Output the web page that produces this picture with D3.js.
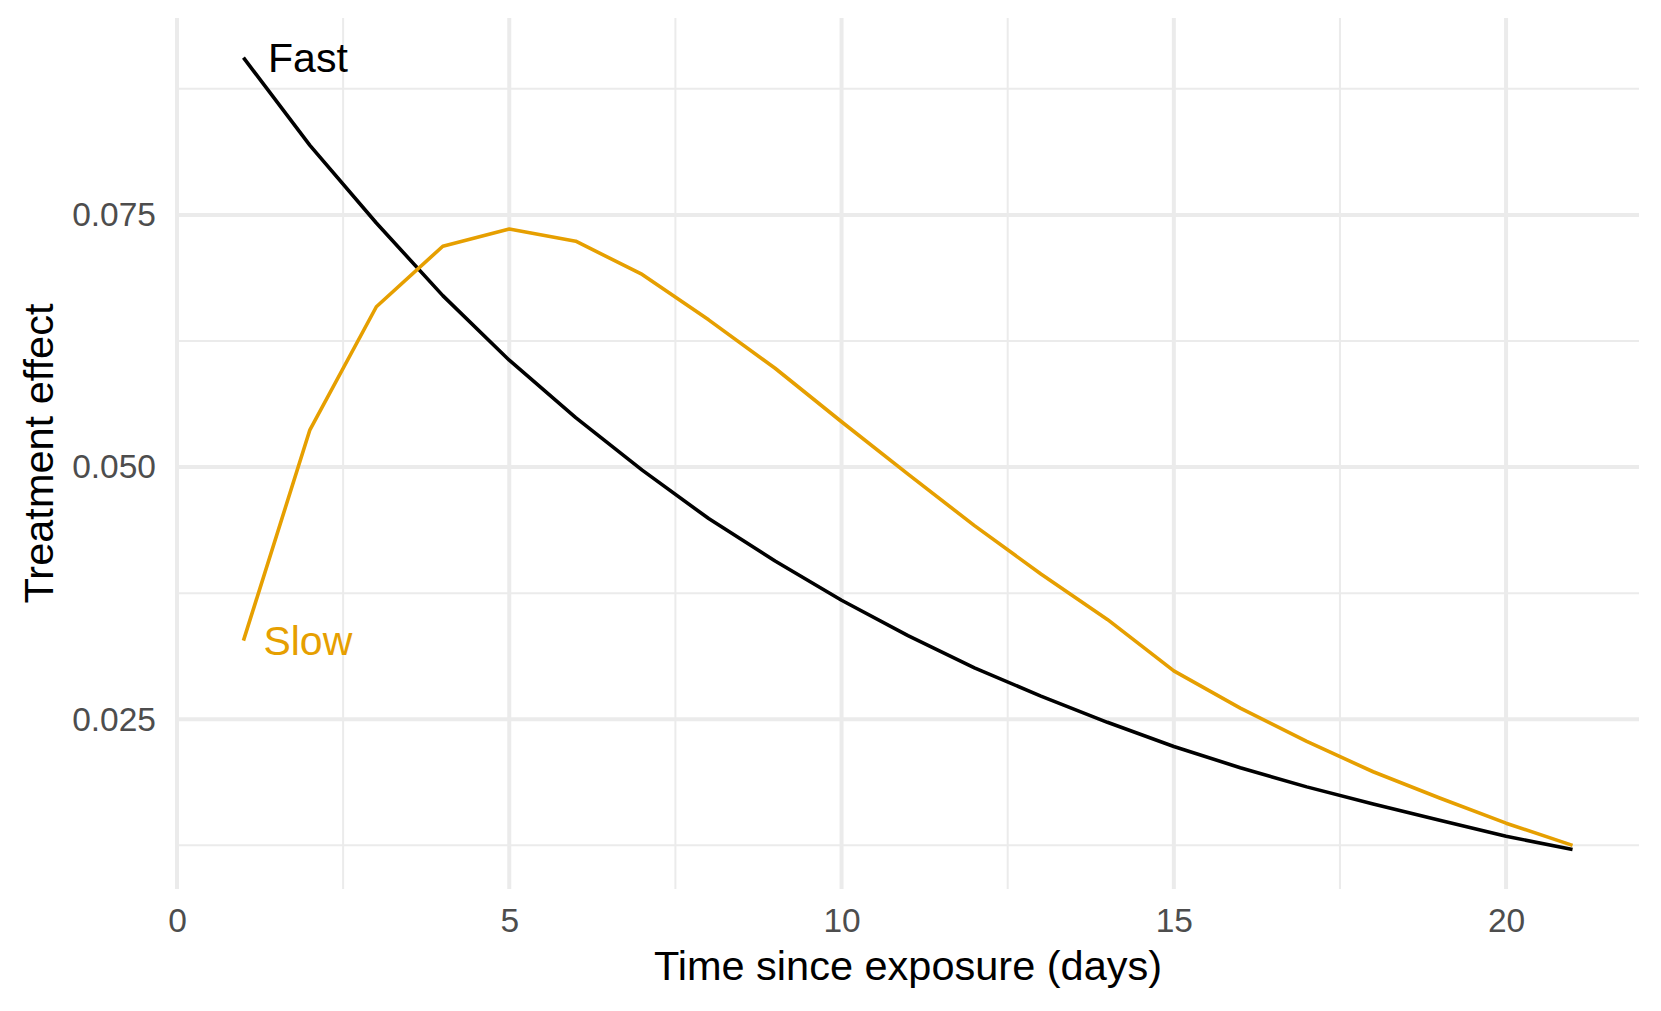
<!DOCTYPE html>
<html lang="en">
<head>
	<meta charset="UTF-8">
	<script src="https://d3js.org/d3.v7.min.js"></script>
	<title>Treatment effect</title>
	<style>
		body { margin: 0; background: white; }
		svg { display: block; font-family: "Liberation Sans", Arial, sans-serif; }
	</style>
</head>
<body>
	<div id="chart"></div>
	<script>
		// ---- data ----
		const days = [1, 2, 3, 4, 5, 6, 7, 8, 9, 10, 11, 12, 13, 14, 15, 16, 17, 18, 19, 20, 21];
		const fastValues = [0.0906, 0.0819, 0.0742, 0.0670, 0.0606, 0.0549, 0.0497, 0.0449, 0.0407, 0.0368,
			0.0333, 0.0301, 0.0273, 0.0247, 0.0223, 0.0202, 0.0183, 0.0166, 0.0150, 0.0134, 0.0121];
		const slowValues = [0.0328, 0.0537, 0.0659, 0.0719, 0.0736, 0.0724, 0.0691, 0.0646, 0.0598, 0.0545,
			0.0493, 0.0442, 0.0394, 0.0349, 0.0298, 0.0261, 0.0228, 0.0198, 0.0172, 0.0147, 0.0125];
		const seriesNames = ["Fast", "Slow"];
		const seriesColors = ["#000000", "#E69F00"];
		// label anchor (day) for each series name, placed at the day-1 value
		const labelDays = [1.37, 1.3];
		const xTicks = [0, 5, 10, 15, 20];
		const xMinor = [2.5, 7.5, 12.5, 17.5];
		const yTicks = [0.025, 0.050, 0.075];
		const yMinor = [0.0125, 0.0375, 0.0625, 0.0875];

		const width = 1661, height = 1011;
		const panel = { left: 177, right: 1639, top: 18, bottom: 889 };

		const series = [fastValues, slowValues].map((vals, i) => ({
			name: seriesNames[i],
			color: seriesColors[i],
			labelDay: labelDays[i],
			points: days.map((d, j) => ({ day: d, value: vals[j] }))
		}));

		// ggplot style 5% expansion of the data range
		const xExt = d3.extent(days);
		const xPad = (xExt[1] - xExt[0]) * 0.05;
		const allVals = fastValues.concat(slowValues);
		const yExt = d3.extent(allVals);
		const yPad = (yExt[1] - yExt[0]) * 0.05;

		const x = d3.scaleLinear()
			.domain([xExt[0] - xPad, xExt[1] + xPad])
			.range([panel.left, panel.right]);
		const y = d3.scaleLinear()
			.domain([yExt[0] - yPad, yExt[1] + yPad])
			.range([panel.bottom, panel.top]);

		const svg = d3.select("#chart").append("svg")
			.attr("width", width)
			.attr("height", height);

		// grid lines
		const grid = svg.append("g");
		grid.selectAll(".ymin").data(yMinor).enter().append("line")
			.attr("x1", panel.left).attr("x2", panel.right)
			.attr("y1", d => y(d)).attr("y2", d => y(d))
			.attr("stroke", "#EBEBEB").attr("stroke-width", 2);
		grid.selectAll(".xmin").data(xMinor).enter().append("line")
			.attr("y1", panel.top).attr("y2", panel.bottom)
			.attr("x1", d => x(d)).attr("x2", d => x(d))
			.attr("stroke", "#EBEBEB").attr("stroke-width", 2);
		grid.selectAll(".ymaj").data(yTicks).enter().append("line")
			.attr("x1", panel.left).attr("x2", panel.right)
			.attr("y1", d => y(d)).attr("y2", d => y(d))
			.attr("stroke", "#EBEBEB").attr("stroke-width", 4);
		grid.selectAll(".xmaj").data(xTicks).enter().append("line")
			.attr("y1", panel.top).attr("y2", panel.bottom)
			.attr("x1", d => x(d)).attr("x2", d => x(d))
			.attr("stroke", "#EBEBEB").attr("stroke-width", 4);

		// axes (text only, theme_minimal has no axis lines)
		const xAxis = svg.append("g")
			.attr("transform", `translate(0,${panel.bottom})`)
			.call(d3.axisBottom(x).tickValues(xTicks).tickSize(0).tickPadding(19).tickFormat(d3.format("d")));
		const yAxis = svg.append("g")
			.attr("transform", `translate(${panel.left},0)`)
			.call(d3.axisLeft(y).tickValues(yTicks).tickSize(0).tickPadding(21).tickFormat(d3.format(".3f")));
		[xAxis, yAxis].forEach(a => {
			a.select(".domain").remove();
			a.selectAll("text")
				.attr("fill", "#4D4D4D")
				.style("font-size", "33.5px")
				.style("font-family", "'Liberation Sans', Arial, sans-serif");
		});

		// lines
		const line = d3.line()
			.x(d => x(d.day))
			.y(d => y(d.value));

		svg.selectAll(".series").data(series).enter().append("path")
			.attr("d", d => line(d.points))
			.attr("fill", "none")
			.attr("stroke", d => d.color)
			.attr("stroke-width", 3.6)
			.attr("stroke-linejoin", "round");

		// direct labels
		svg.selectAll(".lab").data(series).enter().append("text")
			.attr("x", d => x(d.labelDay))
			.attr("y", d => y(d.points[0].value))
			.attr("dy", "0.35em")
			.attr("fill", d => d.color)
			.style("font-size", "41px")
			.text(d => d.name);

		// axis titles
		svg.append("text")
			.attr("x", (panel.left + panel.right) / 2)
			.attr("y", 980)
			.attr("text-anchor", "middle")
			.style("font-size", "41.5px")
			.text("Time since exposure (days)");
		svg.append("text")
			.attr("transform", `translate(53,${(panel.top + panel.bottom) / 2}) rotate(-90)`)
			.attr("text-anchor", "middle")
			.style("font-size", "41.5px")
			.text("Treatment effect");
	</script>
</body>
</html>
